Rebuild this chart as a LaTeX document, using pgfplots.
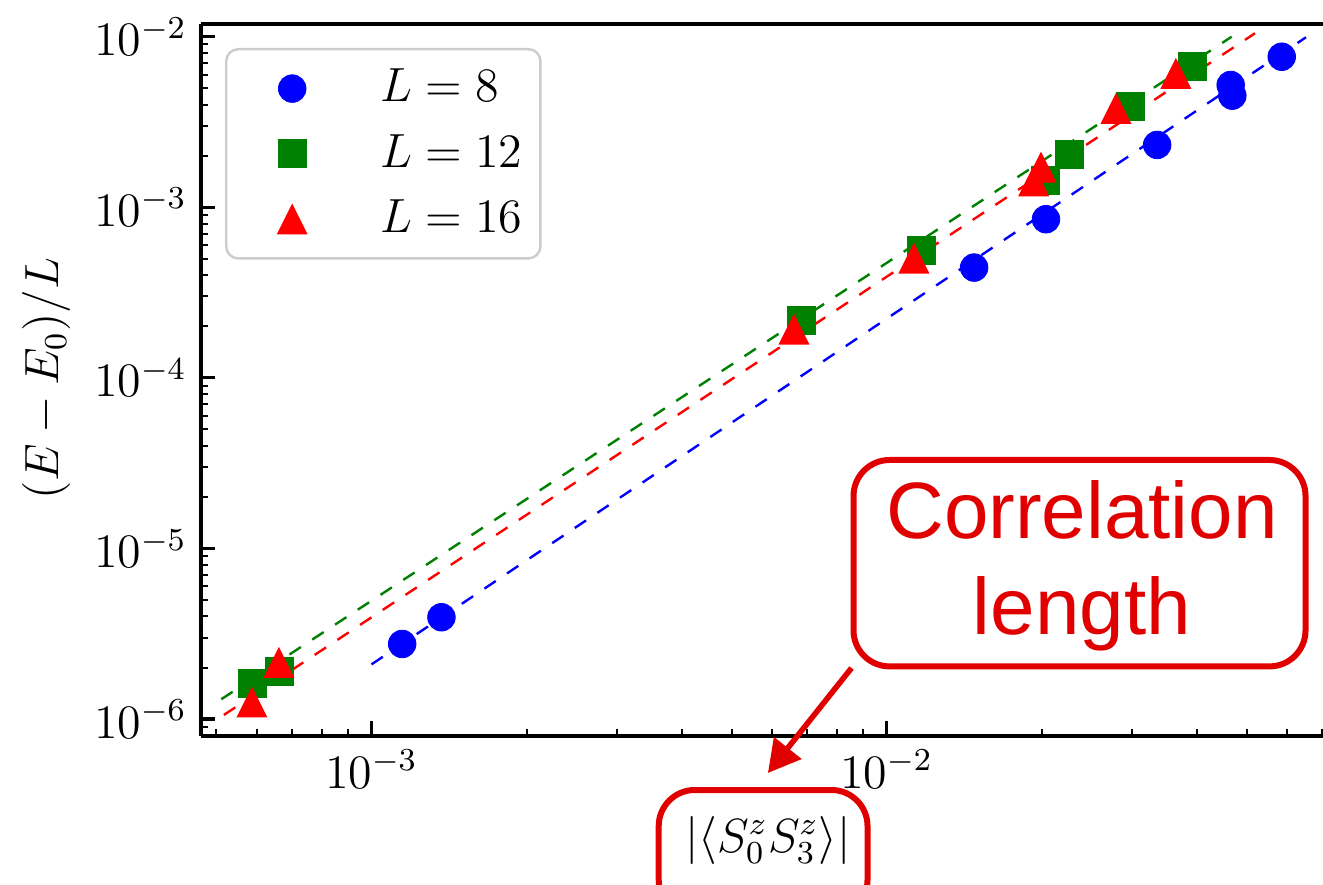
\documentclass[border=0pt]{standalone}
\usepackage{fontspec}
\usepackage{pgfplots}
\usepackage{pgfplotstable}
\pgfplotsset{compat=1.18}
\usetikzlibrary{arrows.meta}
\newfontfamily\annfont{Liberation Sans}
\definecolor{annred}{RGB}{225,0,0}
\definecolor{mgreen}{RGB}{0,128,0}
\pgfdeclareplotmark{mtri}{%
  \pgfpathmoveto{\pgfqpoint{0pt}{\pgfplotmarksize}}%
  \pgfpathlineto{\pgfqpoint{-\pgfplotmarksize}{-\pgfplotmarksize}}%
  \pgfpathlineto{\pgfqpoint{\pgfplotmarksize}{-\pgfplotmarksize}}%
  \pgfpathclose\pgfusepathqfill}

\pgfplotstableread{
x y
1.147e-3 2.754e-6
1.367e-3 3.95e-6
1.479e-2 4.43e-4
2.039e-2 8.51e-4
3.352e-2 2.32e-3
4.656e-2 5.21e-3
4.69e-2 4.51e-3
5.85e-2 7.63e-3
}\tabA
\pgfplotstableread{
x y
5.87e-4 1.62e-6
6.64e-4 1.90e-6
6.84e-3 2.164e-4
1.17e-2 5.62e-4
2.036e-2 1.445e-3
2.262e-2 2.05e-3
2.969e-2 3.89e-3
3.92e-2 6.73e-3
}\tabB
\pgfplotstableread{
x y
5.86e-4 1.26e-6
6.61e-4 2.15e-6
6.61e-3 1.93e-4
1.13e-2 5.04e-4
1.93e-2 1.43e-3
1.994e-2 1.72e-3
2.789e-2 3.80e-3
3.645e-2 6.10e-3
}\tabC

\begin{document}
\begin{tikzpicture}
\useasboundingbox (-50.175pt,-37.25pt) rectangle (280.575pt,184pt);
\clip (-50.175pt,-37.25pt) rectangle (280.575pt,184pt);
\begin{axis}[
  at={(0pt,0pt)}, anchor=south west,
  scale only axis,
  width=280.575pt, height=178pt,
  xmode=log, ymode=log,
  xmin=4.66e-4, xmax=0.07035,
  ymin=7.95e-7, ymax=0.01187,
  axis x line*=box, axis y line*=left,
  xtick pos=left, ytick pos=left,
  axis line style={line width=1pt, black},
  major tick style={line width=0.8pt, black},
  minor tick style={line width=0.5pt, black},
  major tick length=3.7pt, minor tick length=1.8pt,
  tick align=inside,
  tick label style={font=\fontsize{12}{14}\selectfont},
  label style={font=\fontsize{12}{14}\selectfont},
  xlabel={$|\langle S_0^z S_3^z\rangle|$},
  ylabel={$(E-E_0)/L$},
  xlabel style={at={(axis description cs:0.5055,-0.1629)}, anchor=base},
  ylabel style={at={(axis description cs:-0.137,0.502)}, anchor=center},
  legend style={at={(axis description cs:0.0217,0.9663)}, anchor=north west,
    draw=black!20, line width=0.6pt, rounded corners=3pt, fill=white,
    inner xsep=2.5pt, inner ysep=3pt, row sep=2.6pt,
    font=\fontsize{12}{14}\selectfont},
  legend cell align=left,
  legend image code/.code={\path (-13.7pt,0pt) (19.7pt,0pt); \draw[#1] plot coordinates {(0pt,0pt)};},
]
\addplot[only marks, mark=*, mark size=3.45pt, color=blue, mark options={fill=blue, draw=blue, line width=0.2pt}] table[x=x,y=y] {\tabA};
\addlegendentry{$L=8$}
\addplot[only marks, mark=square*, mark size=3.5pt, color=mgreen, mark options={fill=mgreen, draw=mgreen, line width=0.2pt}] table[x=x,y=y] {\tabB};
\addlegendentry{$L=12$}
\addplot[only marks, mark=mtri, mark size=3.875pt, color=red, mark options={fill=red}] table[x=x,y=y] {\tabC};
\addlegendentry{$L=16$}
\addplot[forget plot, blue, line width=0.6pt, dash pattern=on 3.4pt off 3.4pt] coordinates {(1.0e-3,2.09e-6) (6.52e-2,9.92e-3)};
\addplot[forget plot, mgreen, line width=0.6pt, dash pattern=on 3.4pt off 3.4pt] coordinates {(5.11e-4,1.306e-6) (4.677e-2,1.0e-2)};
\addplot[forget plot, red, line width=0.6pt, dash pattern=on 3.4pt off 3.4pt] coordinates {(5.17e-4,1.057e-6) (5.19e-2,1.047e-2)};
\end{axis}
\draw[annred, line width=1.5pt, rounded corners=9pt] (163.2pt,17.4pt) rectangle (276.2pt,69pt);
\node[annred, anchor=base, inner sep=0pt, font=\annfont\fontsize{20}{24}\selectfont] at (220.3pt,49.25pt) {Correlation};
\node[annred, anchor=base, inner sep=0pt, font=\annfont\fontsize{20}{24}\selectfont] at (220.3pt,25.25pt) {length};
\draw[annred, line width=1.5pt, rounded corners=9pt] (114.5pt,-45pt) rectangle (166.7pt,-13.5pt);
\draw[annred, line width=1.4pt, -{Triangle[length=8pt,width=8.5pt]}] (162.7pt,17pt) -- (141.8pt,-9.25pt);
\end{tikzpicture}
\end{document}
